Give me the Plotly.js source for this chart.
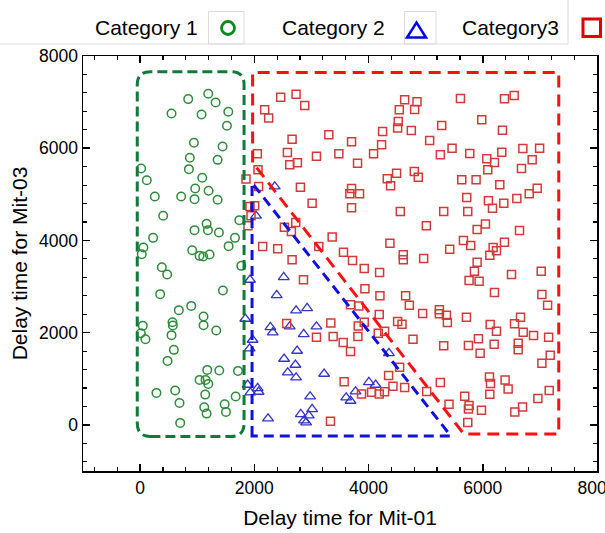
<!DOCTYPE html>
<html>
<head>
<meta charset="utf-8">
<script src="https://cdn.plot.ly/plotly-3.0.1.min.js"></script>
<style>html,body{margin:0;padding:0;background:#fff;}#chart{width:605px;height:533px;}</style>
</head>
<body>
<div id="chart"></div>
<script>
// ---- Data ----
const seriesNames = ["Category 1", "Category 2", "Category3"];

const cat1X = [1193,842,1322,550,1076,1544,1520,942,1444,871,1357,18,854,117,1088,257,719,965,953,1199,1357,404,1164,953,1187,1380,1737,228,1661,58,1550,912,1041,1216,29,1105,
  380,474,1772,351,1450,678,895,1111,1111,567,573,47,12,93,550,1333,591,480,1175,1041,1146,1193,1386,1714,286,614,690,1140,1123,1164,1480,1503,1673,702];
const cat1Y = [7180,7065,6992,6753,6732,6790,6486,6117,6037,5792,5748,5560,5546,5307,5358,4953,4953,5127,4896,5076,4881,4534,4360,4223,4223,4172,4440,4056,4056,3846,3876,3789,3666,3695,3702,3650,
  3420,3261,3449,2835,2913,2488,2581,2350,2162,2227,2155,2148,1989,1859,1946,2046,1627,1388,1193,976,976,889,1178,1171,694,744,477,657,384,245,449,282,614,43];

const cat2X = [2357,2029,1924,2515,2392,2731,2924,1842,2281,2322,2619,3088,2865,1970,1918,2749,2521,2719,2585,2731,3222,4357,1883,2058,1930,2075,2977,2240,2813,3012,2953,2871,2907,3608,3684,3772,4006,4123];
const cat2Y = [5170,4534,3145,3203,2813,2480,2531,2299,2119,2003,2133,2133,1967,1844,1655,1605,1432,1302,1135,1026,1106,1555,868,796,701,716,614,137,232,341,202,94,51,593,521,723,926,868];

const cat3X = [1854,2075,2064,2006,1924,1942,1889,2807,3012,2725,2526,2649,3363,2146,2409,3129,3561,2661,3719,3924,4193,2860,3936,4199,4649,4714,3684,3830,4187,4947,5240,5240,5363,5380,2567,3339,3819,3924,4509,4585,4281,4170,3088,3380,3813,4778,5316,3556,3684,4374,4608,4608,4965,5421,5012,4556,5316,5661,3702,3672,3842,3702,4328,4491,4386,4801,4871,5632,4351,4544,4427,4632,3573,3877,4053,4187,4281,5018,5257,5409,3333,
  2462,2731,2883,2181,2251,3304,2661,3702,2053,2579,3088,3480,2620,2754,3807,4088,4228,4246,4509,4520,4749,4538,4632,4807,4848,5070,5281,5257,5462,5609,
  6380,6550,5982,6345,5772,6070,6205,6088,6333,6702,6995,6865,6678,5883,6298,5719,5737,6099,6170,6368,6596,6813,6953,6047,5901,6643,5789,6181,6380,
  6240,6123,5901,5854,5760,5936,6503,7023,6205,7035,7135,5714,6129,6240,6556,6661,6708,6889,7153,5924,5749,6199,6620,6620,5953,7181,7035,6117,6135,6391,6444,6123,5684,5760,5749,5977,6561,6696,6965,7163,5737];
const cat3Y = [5330,5170,5531,4751,4736,4534,4317,5156,4809,4389,4288,4194,4072,3868,3818,3868,3745,3579,3564,3391,3304,3145,2950,2798,2798,2597,2604,2581,2393,2415,2495,2408,2379,2219,2198,2212,2147,2227,2241,2184,2032,1989,1902,1916,1916,1859,1714,1785,1590,3941,3688,3579,3608,3811,4317,4627,4627,3998,5126,5011,5011,4707,5336,5459,5184,5495,5373,5315,1069,1251,839,810,933,672,709,672,716,723,918,449,80,
  7108,7173,6926,6833,6653,6291,6197,6139,5879,5907,5828,5879,5640,5683,5676,5879,6074,6362,6436,6580,6384,6833,7050,6840,7007,6168,6493,5857,6001,7079,
  7072,7144,6616,6392,5885,5770,5690,5531,5915,5994,6002,5748,5560,5315,5206,4931,4627,4859,4700,4809,4909,5011,5134,4354,4237,4215,3890,3846,3963,
  3774,3680,3529,3334,3131,3117,3261,3334,2870,2827,2596,2336,2177,2032,2191,2336,2011,1937,1902,1866,1720,1750,1772,1627,1555,1512,1338,1041,896,976,781,666,622,419,347,318,282,390,571,744,50];

const xTickVals = [0, 2000, 4000, 6000, 8000];
const yTickVals = [0, 2000, 4000, 6000, 8000];

// ---- Layout geometry ----
const W = 605, H = 533;
const M = {l: 83, r: 8, t: 56, b: 62};
const PW = W - M.l - M.r, PH = H - M.t - M.b;
const px2xp = px => (px - M.l) / PW;
const py2yp = py => (H - M.b - py) / PH;

const FONT = 'Arial, "Liberation Sans", sans-serif';
const cGreen = '#2e8b3c', cBlue = '#3434c8', cRed = '#d23a3a';

const traces = [
  {x: cat1X, y: cat1Y, name: seriesNames[0], type: 'scatter', mode: 'markers',
   marker: {symbol: 'circle-open', size: 8.5, color: cGreen, line: {width: 1.5, color: cGreen}}},
  {x: cat2X, y: cat2Y, name: seriesNames[1], type: 'scatter', mode: 'markers',
   marker: {symbol: 'triangle-up-open', size: 9.5, color: cBlue, line: {width: 1.3, color: cBlue}}},
  {x: cat3X, y: cat3Y, name: seriesNames[2], type: 'scatter', mode: 'markers',
   marker: {symbol: 'square-open', size: 8, color: cRed, line: {width: 1.5, color: cRed}}}
];

// rounded rectangle path in data coordinates
function roundRect(x0, y0, x1, y1, rx, ry) {
  return `M ${x0+rx},${y0} L ${x1-rx},${y0} Q ${x1},${y0} ${x1},${y0+ry} L ${x1},${y1-ry} Q ${x1},${y1} ${x1-rx},${y1} ` +
         `L ${x0+rx},${y1} Q ${x0},${y1} ${x0},${y1-ry} L ${x0},${y0+ry} Q ${x0},${y0} ${x0+rx},${y0} Z`;
}

const shapes = [
  {type: 'path', xref: 'x', yref: 'y', path: roundRect(-50, -250, 1820, 7660, 230, 280),
   line: {color: '#0f7a3a', width: 3, dash: '10px,5px'}},
  {type: 'path', xref: 'x', yref: 'y', path: 'M 1970,5690 L 1970,7640 L 7330,7640 L 7330,-200 L 5670,-200 Z',
   line: {color: '#ff1010', width: 3, dash: '12px,7px'}},
  {type: 'path', xref: 'x', yref: 'y', path: 'M 1960,-240 L 1960,5250 L 5440,-240 Z',
   line: {color: '#1010e0', width: 3, dash: '10px,6px'}},
  // legend frame artifacts
  {type: 'line', xref: 'paper', yref: 'paper', x0: px2xp(0), x1: px2xp(568), y0: py2yp(44), y1: py2yp(44),
   line: {color: '#dcdcdc', width: 1}},
  {type: 'line', xref: 'paper', yref: 'paper', x0: px2xp(568), x1: px2xp(568), y0: py2yp(0), y1: py2yp(44),
   line: {color: '#dcdcdc', width: 1}},
  {type: 'rect', xref: 'paper', yref: 'paper', x0: px2xp(208.5), x1: px2xp(244), y0: py2yp(11.5), y1: py2yp(44),
   line: {color: '#dcdcdc', width: 1}},
  {type: 'rect', xref: 'paper', yref: 'paper', x0: px2xp(404.5), x1: px2xp(436), y0: py2yp(11.5), y1: py2yp(44),
   line: {color: '#dcdcdc', width: 1}},
  // legend symbols
  {type: 'circle', xref: 'paper', yref: 'paper', x0: px2xp(221.5), x1: px2xp(234.5), y0: py2yp(21.5), y1: py2yp(34.5),
   line: {color: '#0a8a1a', width: 2.8}},
  {type: 'path', xref: 'paper', yref: 'paper',
   path: `M ${px2xp(407)},${py2yp(37.5)} L ${px2xp(426)},${py2yp(37.5)} L ${px2xp(416.5)},${py2yp(22.5)} Z`,
   line: {color: '#0000e6', width: 2.5}},
  {type: 'rect', xref: 'paper', yref: 'paper', x0: px2xp(583), x1: px2xp(600.5), y0: py2yp(19), y1: py2yp(36.5),
   line: {color: '#e00000', width: 3}}
];

const annotations = [
  {text: seriesNames[0], x: px2xp(92.5), xanchor: 'left'},
  {text: seriesNames[1], x: px2xp(280), xanchor: 'left'},
  {text: seriesNames[2], x: px2xp(459.5), xanchor: 'left'}
].map(a => Object.assign({xref: 'paper', yref: 'paper', y: py2yp(27), yanchor: 'middle', showarrow: false,
  font: {family: FONT, size: 21, color: '#000'}}, a));

const axisCommon = {
  range: [-1000, 8000], showgrid: false, zeroline: false, showline: true, linecolor: '#000', linewidth: 1.5,
  mirror: 'ticks', ticks: 'inside', ticklen: 7, tickwidth: 1.5, tickcolor: '#000',
  tickmode: 'array', tickfont: {family: FONT, size: 17.5, color: '#000'}, ticklabeloverflow: 'allow',
  minor: {dtick: 400, tick0: 0, ticks: 'inside', ticklen: 4, tickwidth: 1.2, tickcolor: '#000'}
};

const layout = {
  width: W, height: H, margin: M, paper_bgcolor: '#fff', plot_bgcolor: '#fff', showlegend: false,
  font: {family: FONT, color: '#000'},
  xaxis: Object.assign({}, axisCommon, {tickvals: xTickVals, ticktext: xTickVals.map(String),
    title: {text: 'Delay time for Mit-01', font: {family: FONT, size: 21, color: '#000'}, standoff: 14}}),
  yaxis: Object.assign({}, axisCommon, {tickvals: yTickVals, ticktext: yTickVals.map(String),
    title: {text: 'Delay time for Mit-03', font: {family: FONT, size: 21, color: '#000'}, standoff: 5}}),
  shapes: shapes, annotations: annotations
};

Plotly.newPlot('chart', traces, layout, {displayModeBar: false, staticPlot: true});
</script>
</body>
</html>
